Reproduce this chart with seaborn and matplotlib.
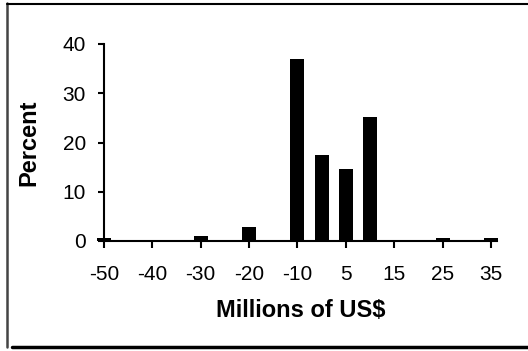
import matplotlib
matplotlib.use("Agg")
import matplotlib.pyplot as plt
import seaborn as sns
import pandas as pd
from matplotlib.lines import Line2D

# --- Data ---
bins = ["-50", "-45", "-40", "-35", "-30", "-25", "-20", "-15", "-10",
        "-5", "5", "10", "15", "20", "25", "30", "35"]
percent = [0.6, 0, 0, 0, 1.1, 0, 2.9, 0, 37.0,
           17.5, 14.6, 25.1, 0, 0, 0.6, 0, 0.6]
shown_labels = ["-50", "-40", "-30", "-20", "-10", "5", "15", "25", "35"]

df = pd.DataFrame({"bin": bins, "pct": percent})

sns.set_theme(style="ticks")
plt.rcParams["font.family"] = ["Liberation Sans", "DejaVu Sans"]
plt.rcParams["text.color"] = "black"
plt.rcParams["axes.labelcolor"] = "black"

W, H = 528, 351
fig = plt.figure(figsize=(W / 100, H / 100), dpi=100)
ax = fig.add_axes([104 / W, 1 - 241 / H, (497 - 104) / W, (241 - 44) / H])

sns.barplot(data=df, x="bin", y="pct", order=bins, color="black",
            width=0.58, saturation=1, edgecolor="black", linewidth=0, ax=ax)
for p in ax.patches:
    p.set_clip_on(False)
    p.set_zorder(3)

ax.set_xlim(0, 16.25)
ax.set_ylim(0, 40)
ax.set_yticks([0, 10, 20, 30, 40])
ax.set_xticks(range(0, 17, 2))
ax.set_xticklabels(shown_labels)

for side in ["top", "right"]:
    ax.spines[side].set_visible(False)
for side in ["left", "bottom"]:
    ax.spines[side].set_linewidth(1.5)
    ax.spines[side].set_color("black")

ax.tick_params(axis="x", length=5, width=1.5, pad=12, labelsize=15, colors="black")
ax.tick_params(axis="y", length=4, width=1.5, pad=9, labelsize=15, colors="black")

ax.set_xlabel("Millions of US$", fontsize=17, fontweight="bold", labelpad=11)
ax.set_ylabel("Percent", fontsize=17, fontweight="bold", labelpad=16)

# chart-area frame with shadow like the original
fx = lambda px: px / W
fy = lambda py: 1 - py / H
fig.add_artist(Line2D([fx(7), fx(7)], [fy(3), fy(347)], color="#444444", lw=1.8,
                      transform=fig.transFigure))
fig.add_artist(Line2D([fx(7), fx(528)], [fy(3.5), fy(3.5)], color="black", lw=1.5,
                      transform=fig.transFigure))
fig.add_artist(Line2D([fx(12), fx(528)], [fy(347), fy(347)], color="black", lw=2.5,
                      transform=fig.transFigure))

fig.savefig("out.png", dpi=100)
